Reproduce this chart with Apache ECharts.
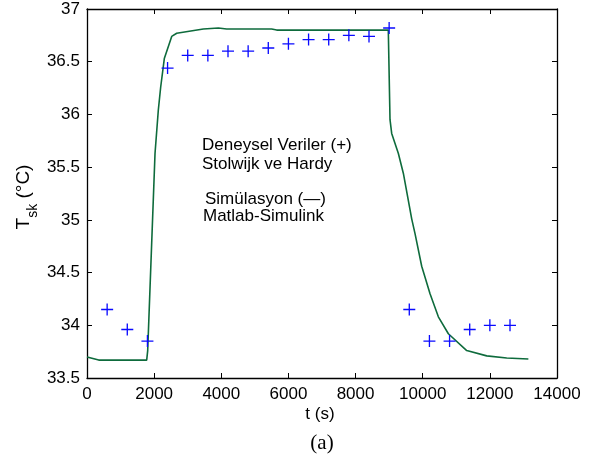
<!DOCTYPE html>
<html>
<head>
<meta charset="utf-8">
<script src="https://cdn.jsdelivr.net/npm/echarts@6/dist/echarts.min.js"></script>
<style>
html,body{margin:0;padding:0;background:#fff;}
#c{width:590px;height:465px;}
</style>
</head>
<body>
<div id="c"></div>
<script>
// Experimental data (+), Stolwijk & Hardy
var expTime = [600, 1200, 1800, 2400, 3000, 3600, 4200, 4800, 5400, 6000, 6600, 7200, 7800, 8400, 9000, 9600, 10200, 10800, 11400, 12000, 12600];
var expTsk  = [34.15, 33.96, 33.85, 36.44, 36.56, 36.56, 36.60, 36.60, 36.63, 36.67, 36.71, 36.71, 36.75, 36.74, 36.82, 34.15, 33.85, 33.85, 33.96, 34.00, 34.00];

// Simulation (—), Matlab-Simulink
var simTime = [0, 350, 1778, 1808, 2026, 2124, 2195, 2303, 2523, 2672, 3466, 3913, 4160, 5500, 5651, 8975, 9026, 9076, 9275, 9424, 9672, 9771, 9970, 10218, 10466, 10764, 11311, 11907, 12502, 13147];
var simTsk  = [33.70, 33.67, 33.67, 33.76, 35.63, 36.04, 36.26, 36.53, 36.74, 36.77, 36.81, 36.82, 36.81, 36.81, 36.80, 36.80, 35.95, 35.82, 35.63, 35.44, 35.01, 34.87, 34.56, 34.30, 34.08, 33.92, 33.76, 33.71, 33.69, 33.68];

var xTicks = {min: 0, max: 14000, interval: 2000};
var yTicks = {min: 33.5, max: 37, interval: 0.5};

var tickFont = "'Liberation Sans Narrow', 'Liberation Sans', Arial, sans-serif";
var sansFont = "'Liberation Sans', Arial, sans-serif";

var chart = echarts.init(document.getElementById('c'));

function pairs(xs, ys){ return xs.map(function(x,i){ return [x, ys[i]]; }); }

var plusPath = 'path://M4.45,0H5.55V4.45H10V5.55H5.55V10H4.45V5.55H0V4.45H4.45Z';

var axisLine = {show: true, onZero: false, lineStyle: {color: '#000', width: 1.3}};
var axisTick = {show: true, inside: true, length: 5, lineStyle: {color: '#000', width: 1}};

chart.setOption({
  animation: false,
  backgroundColor: '#fff',
  grid: {left: 87, right: 33, top: 9, bottom: 87, containLabel: false},
  xAxis: [{
    type: 'value', min: xTicks.min, max: xTicks.max, interval: xTicks.interval,
    axisLine: axisLine, axisTick: axisTick, splitLine: {show: false},
    axisLabel: {color: '#000', fontSize: 17, fontFamily: tickFont, margin: 8, formatter: function(v){ return String(v); }}
  }, {
    type: 'value', position: 'top', min: xTicks.min, max: xTicks.max, interval: xTicks.interval,
    axisLine: axisLine, axisTick: axisTick, splitLine: {show: false}, axisLabel: {show: false}
  }],
  yAxis: [{
    type: 'value', min: yTicks.min, max: yTicks.max, interval: yTicks.interval,
    axisLine: axisLine, axisTick: axisTick, splitLine: {show: false},
    axisLabel: {color: '#000', fontSize: 17, fontFamily: tickFont, margin: 7, formatter: function(v){ return String(v); }}
  }, {
    type: 'value', position: 'right', min: yTicks.min, max: yTicks.max, interval: yTicks.interval,
    axisLine: axisLine, axisTick: axisTick, splitLine: {show: false}, axisLabel: {show: false}
  }],
  series: [{
    type: 'line', name: 'Simülasyon', data: pairs(simTime, simTsk),
    showSymbol: false, symbol: 'none',
    lineStyle: {color: '#0e6b3c', width: 1.6},
    z: 2
  }, {
    type: 'scatter', name: 'Deneysel', data: pairs(expTime, expTsk),
    symbol: plusPath, symbolSize: 12,
    itemStyle: {color: '#0a0aff', opacity: 1},
    z: 3
  }],
  graphic: [
    {type: 'text', x: 202, y: 145, style: {text: 'Deneysel Veriler (+)', font: '17px ' + sansFont, fill: '#000', verticalAlign: 'middle'}},
    {type: 'text', x: 202, y: 164, style: {text: 'Stolwijk ve Hardy', font: '17px ' + sansFont, fill: '#000', verticalAlign: 'middle'}},
    {type: 'text', x: 205, y: 199, style: {text: 'Simülasyon (—)', font: '17px ' + sansFont, fill: '#000', verticalAlign: 'middle'}},
    {type: 'text', x: 203, y: 216, style: {text: 'Matlab-Simulink', font: '17px ' + sansFont, fill: '#000', verticalAlign: 'middle'}},
    {type: 'text', x: 320, y: 414, style: {text: 't (s)', font: '17px ' + sansFont, fill: '#000', align: 'center', verticalAlign: 'middle'}},
    {type: 'text', x: 322, y: 443, style: {text: '(a)', font: "21px 'Liberation Serif', 'Times New Roman', serif", fill: '#000', align: 'center', verticalAlign: 'middle'}},
    {type: 'text', x: 27, y: 197, rotation: Math.PI / 2,
      style: {
        text: '{a|T}{b|sk}{a| (°C)}',
        align: 'center', verticalAlign: 'middle',
        rich: {
          a: {fontSize: 19, fontFamily: sansFont, fill: '#000', lineHeight: 26, verticalAlign: 'top'},
          b: {fontSize: 14, fontFamily: sansFont, fill: '#000', lineHeight: 26, verticalAlign: 'bottom'}
        }
      }
    }
  ]
});
</script>
</body>
</html>
